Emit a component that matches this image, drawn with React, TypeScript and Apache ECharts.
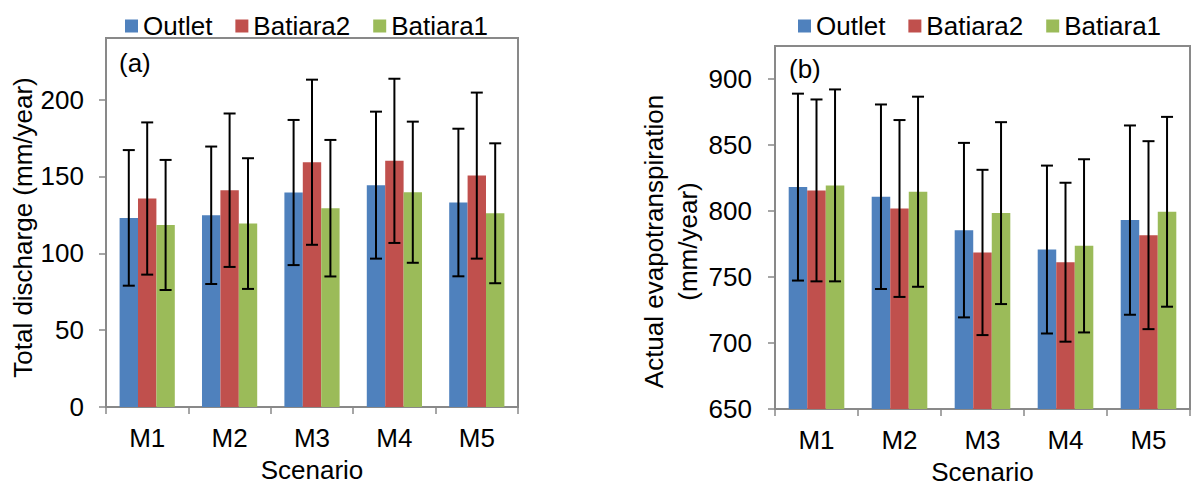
import React, { useEffect, useRef } from "react";
import * as echarts from "echarts";

const scenarios = ["M1", "M2", "M3", "M4", "M5"];
const seriesNames = ["Outlet", "Batiara2", "Batiara1"];
const colors = ["#4F81BD", "#C0504D", "#9BBB59"];

// (a) Total discharge (mm/year): means and +/- error
const dischargeOutlet = [123.0, 124.7, 139.5, 144.3, 133.0];
const dischargeBatiara2 = [135.6, 141.0, 159.2, 160.1, 150.5];
const dischargeBatiara1 = [118.4, 119.3, 129.3, 139.7, 126.0];
const dischargeOutletErr = [44.1, 44.7, 47.2, 47.8, 48.0];
const dischargeBatiara2Err = [49.5, 49.9, 53.7, 53.4, 54.0];
const dischargeBatiara1Err = [42.3, 42.5, 44.4, 45.9, 45.5];

// (b) Actual evapotranspiration (mm/year)
const etOutlet = [818.1, 810.8, 785.5, 770.8, 793.1];
const etBatiara2 = [815.6, 801.9, 768.6, 761.2, 781.7];
const etBatiara1 = [819.4, 814.6, 798.4, 773.6, 799.4];
const etOutletErr = [70.8, 69.9, 66.1, 63.6, 71.7];
const etBatiara2Err = [68.9, 67.0, 62.6, 60.2, 71.2];
const etBatiara1Err = [72.7, 72.0, 68.9, 65.6, 71.9];

const leftTicks = { min: 0, max: 240, interval: 50 };
const rightTicks = { min: 650, max: 925, interval: 50 };

const FONT = "'Liberation Sans', Arial, sans-serif";
const AXIS_COLOR = "#898989";
const CAT_GAP = 0.33;
const FS = 26;

function errorSeries(means: number[], errs: number[], idx: number, axisIdx: number) {
  return {
    type: "custom",
    xAxisIndex: axisIdx,
    yAxisIndex: axisIdx,
    z: 10,
    silent: true,
    data: means.map((m, i) => [i, m - errs[i], m + errs[i]]),
    encode: { x: 0, y: [1, 2] },
    renderItem: (params: any, api: any) => {
      const ci = api.value(0);
      const lo = api.coord([ci, api.value(1)]);
      const hi = api.coord([ci, api.value(2)]);
      const band = api.size([1, 0])[0];
      const bw = (band * (1 - CAT_GAP)) / 3;
      const x = lo[0] + (idx - 1) * bw;
      const cap = 6;
      const style = { stroke: "#000", lineWidth: 2 };
      return {
        type: "group",
        children: [
          { type: "line", shape: { x1: x, y1: lo[1], x2: x, y2: hi[1] }, style },
          { type: "line", shape: { x1: x - cap, y1: hi[1], x2: x + cap, y2: hi[1] }, style },
          { type: "line", shape: { x1: x - cap, y1: lo[1], x2: x + cap, y2: lo[1] }, style },
        ],
      };
    },
  };
}

function barSeries(name: string, data: number[], idx: number, axisIdx: number) {
  return {
    type: "bar",
    name,
    xAxisIndex: axisIdx,
    yAxisIndex: axisIdx,
    data,
    barGap: "0%",
    barCategoryGap: CAT_GAP * 100 + "%",
    itemStyle: { color: colors[idx] },
  };
}

export default function App() {
  const ref = useRef<HTMLDivElement>(null);
  useEffect(() => {
    if (!ref.current) return;
    const chart = echarts.init(ref.current, undefined, { renderer: "svg" });
    const xAxisBase = (gridIndex: number) => ({
      type: "category",
      gridIndex,
      data: scenarios,
      name: "Scenario",
      nameLocation: "middle",
      nameGap: 50,
      nameTextStyle: { fontSize: FS, color: "#000", fontFamily: FONT },
      axisLine: { show: true, lineStyle: { color: AXIS_COLOR, width: 2 } },
      axisTick: { show: true, interval: 0, length: 7, lineStyle: { color: AXIS_COLOR, width: 1.5 } },
      axisLabel: { fontSize: FS, color: "#000", fontFamily: FONT, margin: 18, interval: 0 },
      splitLine: { show: false },
    });
    const legendBase = (left: number) => ({
      left,
      top: 8,
      data: seriesNames,
      icon: "rect",
      itemWidth: 13,
      itemHeight: 13,
      itemGap: 23,
      textStyle: { fontSize: FS, color: "#000", fontFamily: FONT },
    });
    const means = [
      [dischargeOutlet, dischargeBatiara2, dischargeBatiara1],
      [etOutlet, etBatiara2, etBatiara1],
    ];
    const errs = [
      [dischargeOutletErr, dischargeBatiara2Err, dischargeBatiara1Err],
      [etOutletErr, etBatiara2Err, etBatiara1Err],
    ];
    const series: any[] = [];
    [0, 1].forEach((a) => {
      seriesNames.forEach((n, i) => series.push(barSeries(n, means[a][i], i, a)));
    });
    [0, 1].forEach((a) => {
      seriesNames.forEach((n, i) => series.push(errorSeries(means[a][i], errs[a][i], i, a)));
    });
    chart.setOption({
      animation: false,
      textStyle: { fontFamily: FONT },
      legend: [legendBase(120), legendBase(793)],
      grid: [
        { left: 106, top: 38, width: 412, height: 369, show: true, borderColor: AXIS_COLOR, borderWidth: 2, outerBoundsMode: "none" },
        { left: 775, top: 46, width: 415, height: 363, show: true, borderColor: AXIS_COLOR, borderWidth: 2, outerBoundsMode: "none" },
      ],
      xAxis: [xAxisBase(0), xAxisBase(1)],
      yAxis: [
        {
          type: "value",
          gridIndex: 0,
          min: leftTicks.min,
          max: leftTicks.max,
          interval: leftTicks.interval,
          name: "Total discharge (mm/year)",
          nameLocation: "middle",
          nameGap: 70,
          nameTextStyle: { fontSize: FS, color: "#000", fontFamily: FONT, padding: [0, 10, 0, 0] },
          axisLine: { show: true, lineStyle: { color: AXIS_COLOR, width: 2 } },
          axisTick: { show: true, length: 7, lineStyle: { color: AXIS_COLOR, width: 1.5 } },
          axisLabel: { fontSize: FS, color: "#000", fontFamily: FONT, margin: 22, showMaxLabel: false },
          splitLine: { show: false },
        },
        {
          type: "value",
          gridIndex: 1,
          min: rightTicks.min,
          max: rightTicks.max,
          interval: rightTicks.interval,
          name: "Actual evapotranspiration\n(mm/year)",
          nameLocation: "middle",
          nameGap: 66,
          nameTextStyle: { fontSize: FS, color: "#000", fontFamily: FONT, lineHeight: 34, padding: [0, 28, 0, 0] },
          axisLine: { show: true, lineStyle: { color: AXIS_COLOR, width: 2 } },
          axisTick: { show: true, length: 7, lineStyle: { color: AXIS_COLOR, width: 1.5 } },
          axisLabel: { fontSize: FS, color: "#000", fontFamily: FONT, margin: 23, showMaxLabel: false },
          splitLine: { show: false },
        },
      ],
      graphic: [
        { type: "text", left: 119, top: 50, style: { text: "(a)", fontSize: FS, fill: "#000", fontFamily: FONT } },
        { type: "text", left: 789, top: 56, style: { text: "(b)", fontSize: FS, fill: "#000", fontFamily: FONT } },
      ],
      series,
    });
    return () => chart.dispose();
  }, []);
  return (
    <div
      ref={ref}
      style={{ position: "fixed", left: 0, top: 0, width: 1191, height: 487, background: "#fff" }}
    />
  );
}
